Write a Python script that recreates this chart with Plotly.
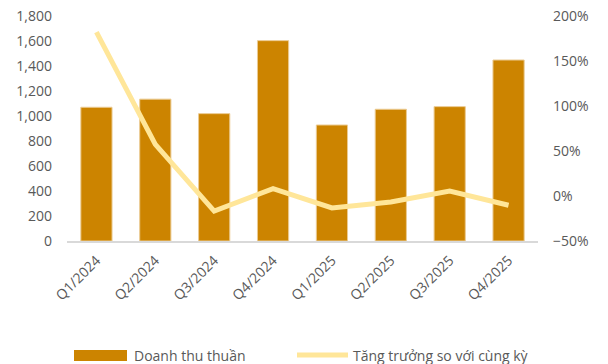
import plotly.graph_objects as go

categories = ["Q1/2024", "Q2/2024", "Q3/2024", "Q4/2024",
              "Q1/2025", "Q2/2025", "Q3/2025", "Q4/2025"]
revenue = [1070, 1135, 1019, 1603, 928, 1054, 1075, 1448]
growth = [1.82, 0.574, -0.167, 0.082, -0.133, -0.067, 0.056, -0.103]

bar_name = "Doanh thu thuần"
line_name = "Tăng trưởng so với cùng kỳ"

BAR_COLOR = "#CC8400"
LINE_COLOR = "#FFE699"
TEXT_COLOR = "#595959"
FONT = "Open Sans"

fig = go.Figure()
fig.add_trace(go.Bar(
    x=categories, y=revenue, name=bar_name,
    marker=dict(color=BAR_COLOR, line=dict(color="#EBCB93", width=1)),
    yaxis="y", showlegend=False,
))
fig.add_trace(go.Scatter(
    x=categories, y=growth, name=line_name, mode="lines",
    line=dict(color=LINE_COLOR, width=5),
    yaxis="y2", showlegend=False,
))

fig.update_layout(
    width=608, height=364,
    margin=dict(l=67, r=70, t=16, b=123, autoexpand=False),
    paper_bgcolor="white", plot_bgcolor="white",
    font=dict(family=FONT, size=14, color=TEXT_COLOR),
    bargap=0.47,
    xaxis=dict(
        type="category", showgrid=False, showline=True,
        linecolor="#D9D9D9", linewidth=1.5, tickangle=-45,
        ticks="", tickfont=dict(size=14, color=TEXT_COLOR),
        ticklabelstandoff=4,
    ),
    yaxis=dict(
        range=[0, 1800], dtick=200, tickformat=",d", showgrid=False,
        zeroline=False, showline=False, ticks="",
        ticklabelstandoff=14,
    ),
    yaxis2=dict(
        range=[-0.5, 2.0], dtick=0.5, tickformat=".0%", overlaying="y",
        side="right", showgrid=False, zeroline=False, showline=False,
        ticks="", ticklabelstandoff=14,
    ),
)

# custom legend at bottom
fig.add_shape(type="rect", xref="paper", yref="paper",
              x0=(74 - 67) / 471, x1=(127 - 67) / 471,
              y0=(364 - 123 - 361) / 225, y1=(364 - 123 - 350) / 225,
              fillcolor=BAR_COLOR, line=dict(width=0))
fig.add_shape(type="line", xref="paper", yref="paper",
              x0=(297 - 67) / 471, x1=(348 - 67) / 471,
              y0=(364 - 123 - 355) / 225, y1=(364 - 123 - 355) / 225,
              line=dict(color=LINE_COLOR, width=5))
fig.add_annotation(xref="paper", yref="paper",
                   x=(132 - 67) / 471, y=(364 - 123 - 355) / 225,
                   text=bar_name, showarrow=False, xanchor="left",
                   yanchor="middle", font=dict(size=14, color=TEXT_COLOR))
fig.add_annotation(xref="paper", yref="paper",
                   x=(351 - 67) / 471, y=(364 - 123 - 355) / 225,
                   text=line_name, showarrow=False, xanchor="left",
                   yanchor="middle", font=dict(size=14, color=TEXT_COLOR))

fig.write_html("out.html")
